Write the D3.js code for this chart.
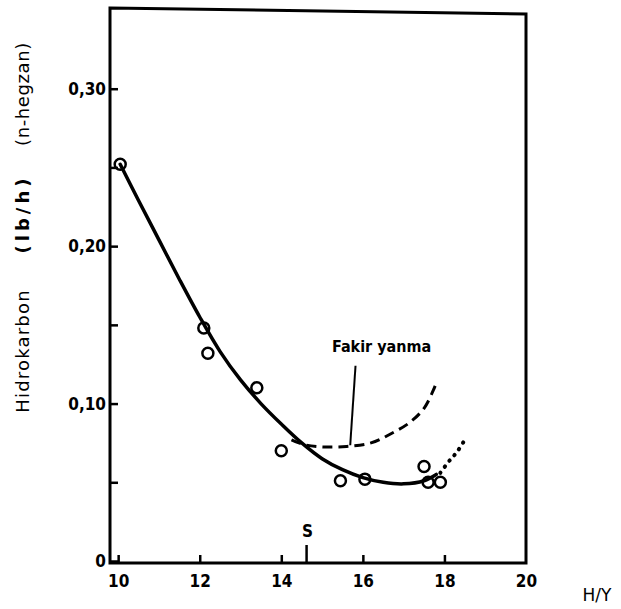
<!DOCTYPE html>
<html>
<head>
<meta charset="utf-8">
<title>Hidrokarbon - H/Y</title>
<script src="https://cdn.jsdelivr.net/npm/d3@7"></script>
<style>
  body { margin: 0; background: #fff; }
  svg { display: block; }
</style>
</head>
<body>
<svg id="mainsvg" width="621" height="609"></svg>
<script>
// measured points (circles)
const pointsX = [10.05, 12.1, 12.2, 13.4, 14.0, 15.45, 16.05, 17.5, 17.6, 17.9];
const pointsY = [0.252, 0.148, 0.132, 0.110, 0.070, 0.051, 0.052, 0.060, 0.050, 0.050];

// fitted solid curve
const solidX = [10.05, 10.5, 11, 11.5, 12, 12.5, 13, 13.5, 14, 14.5, 15, 15.5, 16, 16.5, 17, 17.5, 17.8];
const solidY = [0.252, 0.229, 0.204, 0.179, 0.155, 0.133, 0.115, 0.100, 0.087, 0.075, 0.065, 0.058, 0.053, 0.050, 0.049, 0.051, 0.055];

// "Fakir yanma" dashed curve
const leanX = [14.25, 14.55, 15.0, 15.6, 16.2, 16.7, 17.15, 17.5, 17.72, 17.83];
const leanY = [0.077, 0.074, 0.0725, 0.0728, 0.075, 0.081, 0.088, 0.097, 0.108, 0.115];

// dotted continuation
const dotX = [17.9, 18.1, 18.3, 18.5];
const dotY = [0.056, 0.063, 0.069, 0.077];

const xTicks = [10, 12, 14, 16, 18, 20];
const yTicks = [0, 0.05, 0.10, 0.15, 0.20, 0.25, 0.30];
const yLabels = {0: "0", 0.1: "0,10", 0.2: "0,20", 0.3: "0,30"};
const sMark = 14.62;
const leader = [[15.82, 0.124], [15.69, 0.0735]];

const svg = d3.select("#mainsvg");
const mLeft = 110, mRight = 526, mTop = 10, mBottom = 561;

const x = d3.scaleLinear().domain([9.8, 20]).range([mLeft, mRight]);
const y = d3.scaleLinear().domain([0, 0.35]).range([mBottom, mTop]);

const font = "'DejaVu Sans', sans-serif";
const condensed = "'DejaVu Sans Condensed', 'DejaVu Sans', sans-serif";

// frame
svg.append("path")
  .attr("d", `M${mLeft},${mTop - 2} L${mRight},${mTop + 4} L${mRight},${mBottom + 2} L${mLeft},${mBottom + 2} Z`)
  .attr("fill", "none").attr("stroke", "#000").attr("stroke-width", 3);

// axes
const yAxis = d3.axisLeft(y).tickValues(yTicks).tickSize(-8).tickPadding(4)
  .tickFormat(d => yLabels[Math.round(d * 100) / 100] || "");
const gy = svg.append("g").attr("transform", `translate(${mLeft},0)`).call(yAxis);

const xAxis = d3.axisBottom(x).tickValues(xTicks).tickSize(-8).tickPadding(12).tickFormat(d3.format("d"));
const gx = svg.append("g").attr("transform", `translate(0,${mBottom + 2})`).call(xAxis);

[gx, gy].forEach(g => {
  g.select(".domain").remove();
  g.selectAll(".tick line").attr("stroke", "#000").attr("stroke-width", 2.5);
  g.selectAll("text").attr("fill", "#000").style("font-family", condensed)
    .style("font-weight", "bold").style("font-size", "17px");
});
gx.selectAll(".tick").filter(d => d === 20).select("line").remove();

// S marker
svg.append("line")
  .attr("x1", x(sMark)).attr("x2", x(sMark))
  .attr("y1", mBottom + 2).attr("y2", mBottom - 16)
  .attr("stroke", "#000").attr("stroke-width", 2.5);
svg.append("text").attr("x", x(sMark) + 1).attr("y", mBottom - 24)
  .attr("text-anchor", "middle").style("font-family", condensed)
  .style("font-weight", "bold").style("font-size", "17px").text("S");

// curves
const line = d3.line().x(d => x(d[0])).y(d => y(d[1])).curve(d3.curveCatmullRom);

svg.append("path").datum(d3.zip(solidX, solidY))
  .attr("d", line).attr("fill", "none").attr("stroke", "#000")
  .attr("stroke-width", 3.5).attr("stroke-linecap", "round");

svg.append("path").datum(d3.zip(leanX, leanY))
  .attr("d", line).attr("fill", "none").attr("stroke", "#000")
  .attr("stroke-width", 3).attr("stroke-dasharray", "10,6");

svg.append("path").datum(d3.zip(dotX, dotY))
  .attr("d", line).attr("fill", "none").attr("stroke", "#000")
  .attr("stroke-width", 4).attr("stroke-linecap", "round").attr("stroke-dasharray", "0.5,7");

// circles
svg.append("g").selectAll("circle")
  .data(d3.zip(pointsX, pointsY))
  .join("circle")
  .attr("cx", d => x(d[0])).attr("cy", d => y(d[1]))
  .attr("r", 5.5).attr("fill", "none").attr("stroke", "#000").attr("stroke-width", 2.5);

// leader + label
svg.append("line")
  .attr("x1", x(leader[0][0])).attr("y1", y(leader[0][1]))
  .attr("x2", x(leader[1][0])).attr("y2", y(leader[1][1]))
  .attr("stroke", "#000").attr("stroke-width", 2);
svg.append("text").attr("x", 332).attr("y", 352)
  .style("font-family", condensed)
  .style("font-weight", "bold").style("font-size", "16px").text("Fakir yanma");

// axis titles
const ylab = [["Hidrokarbon", 351, "normal", 1.2], ["(lb/h)", 214, "bold", 4], ["(n-hegzan)", 94, "normal", 0.6]];
ylab.forEach(([t, cy, w, ls]) => {
  svg.append("text").attr("transform", `translate(29,${cy}) rotate(-90)`)
    .attr("text-anchor", "middle").style("font-family", font)
    .style("letter-spacing", ls + "px")
    .style("font-weight", w).style("font-size", "18px").text(t);
});
svg.append("text").attr("x", 597).attr("y", 601).attr("text-anchor", "middle")
  .style("font-family", font).style("font-size", "17px").text("H/Y");
</script>
</body>
</html>
